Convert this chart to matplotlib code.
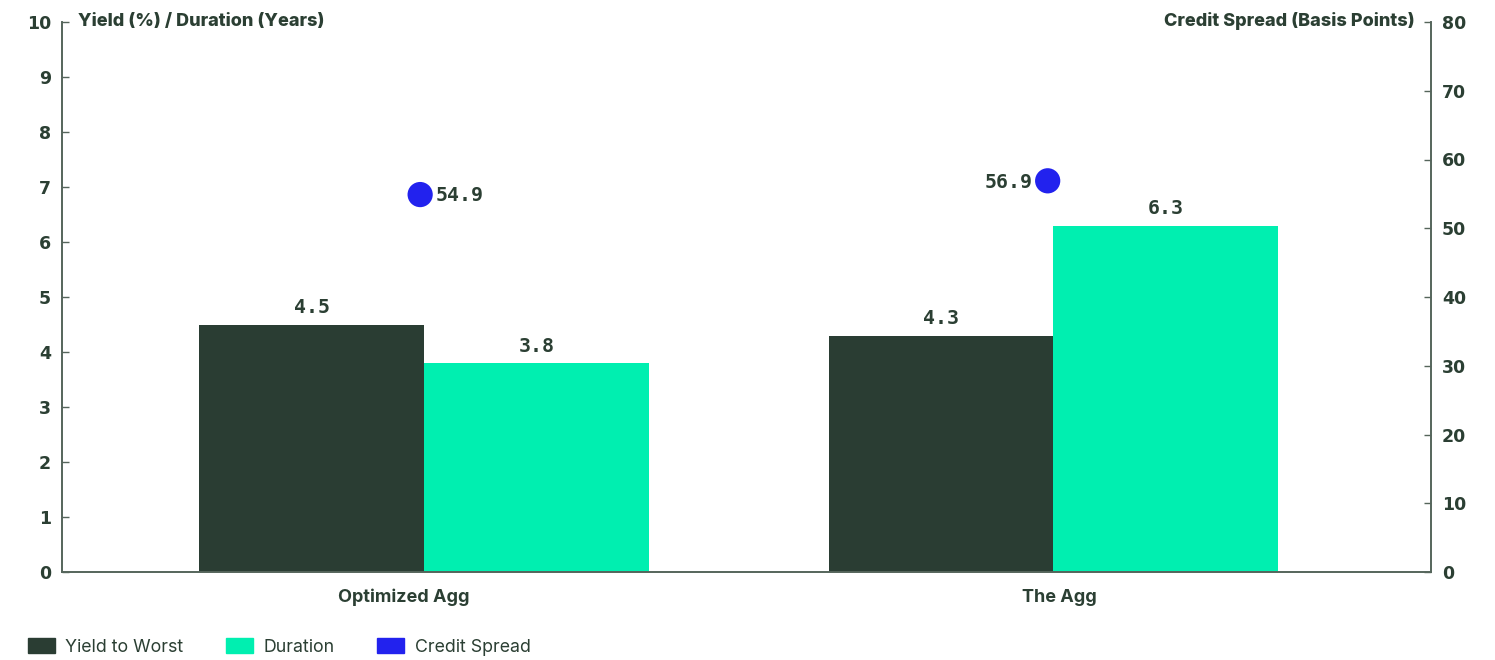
import matplotlib
matplotlib.use("Agg")
import matplotlib.pyplot as plt
import matplotlib.transforms as mtransforms
from matplotlib.patches import Patch
import numpy as np

categories = ["Optimized Agg", "The Agg"]
yield_to_worst = [4.5, 4.3]
duration = [3.8, 6.3]
credit_spread = [54.9, 56.9]
left_ticks = list(range(0, 11))
right_ticks = list(range(0, 81, 10))

DARK = "#2a3d33"
GREEN = "#00efb0"
BLUE = "#2222ee"
TEXT = "#2b3f33"
SPINE = "#55655b"

plt.rcParams['font.family'] = ['Inter', 'DejaVu Sans']

fig = plt.figure(figsize=(14.95, 6.6), dpi=100)
ax = fig.add_axes([62/1495, 88/660, (1431-62)/1495, 550/660])
ax2 = ax.twinx()

x = np.arange(len(categories))
w = 0.357
b1 = ax.bar(x - w/2, yield_to_worst, w, color=DARK, zorder=2)
b2 = ax.bar(x + w/2, duration, w, color=GREEN, zorder=2)

MONO = dict(fontsize=14.3, fontweight="bold", family="DejaVu Sans Mono", color=TEXT)
for rect, v in list(zip(b1, yield_to_worst)) + list(zip(b2, duration)):
    ax.text(rect.get_x() + rect.get_width()/2, v + 0.13, f"{v}", ha="center", va="bottom", **MONO)

ax.set_xlim(-0.575, 1.600)
ax.set_ylim(0, 10)
ax2.set_ylim(0, 80)
ax.set_yticks(left_ticks)
ax2.set_yticks(right_ticks)
ax.set_xticks(x)
ax.set_xticklabels(categories, fontsize=13, fontweight="bold", color=TEXT)
ax.tick_params(axis="x", length=0, pad=12)
label_shift = [-20, 6]
for lab, s in zip(ax.get_xticklabels(), label_shift):
    lab.set_transform(lab.get_transform() + mtransforms.ScaledTranslation(s/100, 0, fig.dpi_scale_trans))
ax.tick_params(axis="y", direction="in", length=5, width=1, color=SPINE, labelsize=12.5, labelcolor=TEXT, pad=8)
ax2.tick_params(axis="y", direction="in", length=5, width=1, color=SPINE, labelsize=12.5, labelcolor=TEXT, pad=8)
for t in ax.get_yticklabels() + ax2.get_yticklabels():
    t.set_fontweight("bold")
    t.set_family("DejaVu Sans")

for a in (ax, ax2):
    a.spines["top"].set_visible(False)
    for s in ("left", "right", "bottom"):
        a.spines[s].set_color(SPINE)
        a.spines[s].set_linewidth(1.2)

ax2.set_zorder(ax.get_zorder() + 1)
ax2.patch.set_visible(False)
dx = [-0.006, -0.009]
ax2.scatter(x + np.array(dx), credit_spread, s=330, color=BLUE, zorder=5, edgecolors="none")
ax2.annotate(f"{credit_spread[0]}", (x[0] + dx[0], credit_spread[0]), xytext=(11, -1),
             textcoords="offset points", ha="left", va="center", **MONO)
ax2.annotate(f"{credit_spread[1]}", (x[1] + dx[1], credit_spread[1]), xytext=(-11, -1),
             textcoords="offset points", ha="right", va="center", **MONO)

fig.text(78/1495, 1 - 21/660, "Yield (%) / Duration (Years)", ha="left", va="center",
         fontsize=13, fontweight="heavy", color=TEXT)
fig.text(1415/1495, 1 - 21/660, "Credit Spread (Basis Points)", ha="right", va="center",
         fontsize=13, fontweight="heavy", color=TEXT)

handles = [Patch(color=DARK, label="Yield to Worst"),
           Patch(color=GREEN, label="Duration"),
           Patch(color=BLUE, label="Credit Spread")]
leg = fig.legend(handles=handles, loc="center left", bbox_to_anchor=(28/1495, 1 - 647/660),
                 ncol=3, frameon=False, fontsize=12.8, handlelength=1.5, handleheight=0.85,
                 columnspacing=2.4, handletextpad=0.6, borderaxespad=0, borderpad=0)
for t in leg.get_texts():
    t.set_color(TEXT)

fig.savefig("out.png", dpi=100)
